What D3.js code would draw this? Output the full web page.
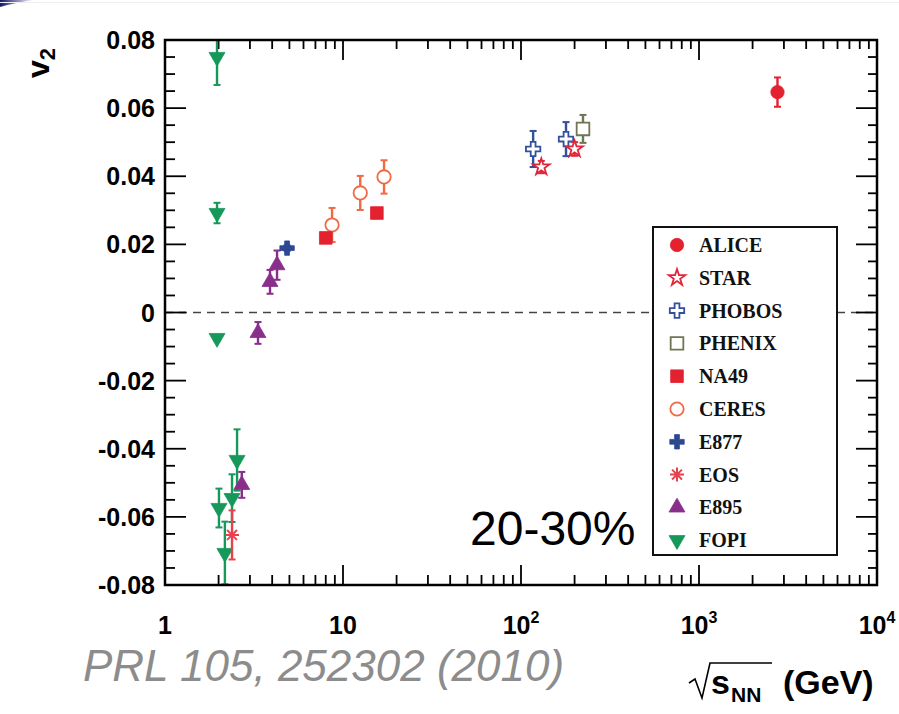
<!DOCTYPE html>
<html>
<head>
<meta charset="utf-8">
<script src="https://cdn.jsdelivr.net/npm/d3@7"></script>
<style>
  body { margin: 0; background: #fff; }
  svg { display: block; }
</style>
</head>
<body>
<svg id="chart" width="899" height="714"></svg>
<script>
// ===== v2 vs sqrt(sNN), 20-30% centrality =====

// data: s = sqrt(sNN) in GeV, v = v2, e = error
var alice  = [{ s: 2760, v: 0.0647, e: 0.0043 }];
var star   = [{ s: 130, v: 0.0427, e: 0.0018 }, { s: 200, v: 0.0480, e: 0.0020 }];
var phobos = [{ s: 117, v: 0.0480, e: 0.0053 }, { s: 179, v: 0.0509, e: 0.0050 }];
var phenix = [{ s: 223, v: 0.0539, e: 0.0041 }];
var na49   = [{ s: 8.0, v: 0.0219, e: 0.0008 }, { s: 15.5, v: 0.0292, e: 0.0008 }];
var ceres  = [{ s: 8.68, v: 0.0257, e: 0.0050 }, { s: 12.5, v: 0.0351, e: 0.0050 }, { s: 17.0, v: 0.0398, e: 0.0049 }];
var e877   = [{ s: 4.85, v: 0.0189, e: 0.0008 }];
var eos    = [{ s: 2.38, v: -0.0653, e: 0.0072 }];
var e895   = [{ s: 3.33, v: -0.0060, e: 0.0032 }, { s: 3.89, v: 0.0090, e: 0.0035 },
              { s: 4.26, v: 0.0139, e: 0.0043 }, { s: 2.70, v: -0.0506, e: 0.0038 }];
var fopi   = [{ s: 1.96, v: 0.0750, e: 0.0082 }, { s: 1.96, v: 0.0292, e: 0.0030 },
              { s: 1.96, v: -0.0075, e: 0.0008 }, { s: 2.01, v: -0.0574, e: 0.0057 },
              { s: 2.17, v: -0.0706, e: 0.0092 },
              { s: 2.38, v: -0.0545, e: 0.0070 }, { s: 2.54, v: -0.0433, e: 0.0090 }];

var yMajor = [0.08, 0.06, 0.04, 0.02, 0, -0.02, -0.04, -0.06, -0.08];
var xDecades = [1, 10, 100, 1000, 10000];
var xLabels = [["1", ""], ["10", ""], ["10", "2"], ["10", "3"], ["10", "4"]];

var series = [
  { name: "ALICE",  data: alice,  color: "#e3212f", shape: "circle",  fill: true },
  { name: "STAR",   data: star,   color: "#e3253a", shape: "star",    fill: false },
  { name: "PHOBOS", data: phobos, color: "#34509c", shape: "cross",   fill: false },
  { name: "PHENIX", data: phenix, color: "#6e7653", shape: "square",  fill: false },
  { name: "NA49",   data: na49,   color: "#e3212f", shape: "square",  fill: true },
  { name: "CERES",  data: ceres,  color: "#f06a45", shape: "circle",  fill: false },
  { name: "E877",   data: e877,   color: "#2d4793", shape: "cross",   fill: true },
  { name: "EOS",    data: eos,    color: "#e8404c", shape: "asterisk", fill: false },
  { name: "E895",   data: e895,   color: "#8a2e8c", shape: "triangle", fill: true },
  { name: "FOPI",   data: fopi,   color: "#16985a", shape: "tridown", fill: true }
];

var svg = d3.select("#chart");
var pLeft = 165, pRight = 877, pTop = 40, pBottom = 585;

var x = d3.scaleLog().domain([1, 10000]).range([pLeft, pRight]);
var y = d3.scaleLinear().domain([-0.08, 0.08]).range([pBottom, pTop]);

// slide decoration
var defs = svg.append("defs");
var cg = defs.append("linearGradient").attr("id", "corner");
cg.append("stop").attr("offset", "0%").attr("stop-color", "#14166b");
cg.append("stop").attr("offset", "100%").attr("stop-color", "#14166b").attr("stop-opacity", 0);
svg.append("path").attr("d", "M0,0 L34,0 Q14,3 0,7 Z").attr("fill", "url(#corner)");
svg.append("line").attr("x1", 0).attr("x2", 899).attr("y1", 2.5).attr("y2", 2.5)
  .attr("stroke", "#eeeeee").attr("stroke-width", 1);

defs.append("clipPath").attr("id", "plotclip").append("rect")
  .attr("x", pLeft).attr("y", pTop).attr("width", pRight - pLeft).attr("height", pBottom - pTop);

// zero line
svg.append("line")
  .attr("x1", pLeft).attr("x2", pRight).attr("y1", y(0)).attr("y2", y(0))
  .attr("stroke", "#444").attr("stroke-width", 1.3).attr("stroke-dasharray", "8,6");

// ticks
var minorX = [];
xDecades.slice(0, -1).forEach(function(d) {
  for (var k = 2; k <= 9; k++) minorX.push(d * k);
});
var minorY = d3.range(-0.08, 0.0801, 0.005).filter(function(v) {
  return Math.abs(Math.round(v * 1000) % 20) !== 0;
});

var tickG = svg.append("g").attr("stroke", "#000").attr("stroke-width", 1.8);
xDecades.forEach(function(d) {
  tickG.append("line").attr("x1", x(d)).attr("x2", x(d)).attr("y1", pBottom).attr("y2", pBottom - 20);
  tickG.append("line").attr("x1", x(d)).attr("x2", x(d)).attr("y1", pTop).attr("y2", pTop + 20);
});
minorX.forEach(function(d) {
  tickG.append("line").attr("x1", x(d)).attr("x2", x(d)).attr("y1", pBottom).attr("y2", pBottom - 10);
  tickG.append("line").attr("x1", x(d)).attr("x2", x(d)).attr("y1", pTop).attr("y2", pTop + 9);
});
yMajor.forEach(function(v) {
  tickG.append("line").attr("x1", pLeft).attr("x2", pLeft + 21).attr("y1", y(v)).attr("y2", y(v));
  tickG.append("line").attr("x1", pRight).attr("x2", pRight - 21).attr("y1", y(v)).attr("y2", y(v));
});
minorY.forEach(function(v) {
  tickG.append("line").attr("x1", pLeft).attr("x2", pLeft + 10).attr("y1", y(v)).attr("y2", y(v));
  tickG.append("line").attr("x1", pRight).attr("x2", pRight - 9).attr("y1", y(v)).attr("y2", y(v));
});

// y tick labels
svg.append("g").selectAll("text").data(yMajor).join("text")
  .attr("x", pLeft - 10).attr("y", function(d) { return y(d); })
  .attr("dy", "0.36em").attr("text-anchor", "end")
  .attr("font-family", "Liberation Sans, Arial, sans-serif").attr("font-weight", "bold")
  .attr("font-size", 25)
  .text(function(d) { return d === 0 ? "0" : d.toFixed(2); });

// x tick labels
var xl = svg.append("g").selectAll("text").data(xDecades).join("text")
  .attr("x", function(d) { return x(d); }).attr("y", 634)
  .attr("text-anchor", "middle")
  .attr("font-family", "Liberation Sans, Arial, sans-serif").attr("font-weight", "bold")
  .attr("font-size", 25);
xl.each(function(d, i) {
  var t = d3.select(this);
  t.append("tspan").text(xLabels[i][0]);
  if (xLabels[i][1]) t.append("tspan").attr("font-size", 16).attr("dy", -11).text(xLabels[i][1]);
});

// symbols
function shapePath(shape) {
  if (shape === "circle") return d3.symbol(d3.symbolCircle, 140)();
  if (shape === "square") return d3.symbol(d3.symbolSquare, 160)();
  if (shape === "star") return d3.symbol(d3.symbolStar, 85)();
  if (shape === "cross") return d3.symbol(d3.symbolCross, 115)();
  if (shape === "triangle") return d3.symbol(d3.symbolTriangle, 110)();
  if (shape === "tridown") return d3.symbol(d3.symbolTriangle, 110)();
  if (shape === "asterisk") {
    var r = 7, p = "";
    [0, 45, 90, 135].forEach(function(a) {
      var c = Math.cos(a * Math.PI / 180) * r, s = Math.sin(a * Math.PI / 180) * r;
      p += "M" + (-c) + "," + (-s) + "L" + c + "," + s;
    });
    return p;
  }
}
function drawMarker(g, sr, px, py) {
  var m = g.append("path").attr("d", shapePath(sr.shape))
    .attr("transform", "translate(" + px + "," + py + ")" + (sr.shape === "tridown" ? " rotate(180)" : ""))
    .attr("stroke", sr.color);
  if (sr.fill) m.attr("fill", sr.color).attr("stroke-width", 0.8);
  else m.attr("fill", sr.shape === "asterisk" ? "none" : "#fff").attr("stroke-width", sr.shape === "asterisk" ? 2 : 1.8);
}

var plot = svg.append("g").attr("clip-path", "url(#plotclip)");
series.slice().reverse().forEach(function(sr) {
  var g = plot.append("g");
  sr.data.forEach(function(d) {
    var px = x(d.s), y1 = y(d.v + d.e), y2 = y(d.v - d.e);
    g.append("line").attr("x1", px).attr("x2", px).attr("y1", y1).attr("y2", y2)
      .attr("stroke", sr.color).attr("stroke-width", 2.4);
    [y1, y2].forEach(function(yy) {
      g.append("line").attr("x1", px - 3.5).attr("x2", px + 3.5).attr("y1", yy).attr("y2", yy)
        .attr("stroke", sr.color).attr("stroke-width", 2);
    });
    drawMarker(g, sr, px, y(d.v));
  });
});

// frame
svg.append("rect").attr("x", pLeft).attr("y", pTop).attr("width", pRight - pLeft).attr("height", pBottom - pTop)
  .attr("fill", "none").attr("stroke", "#000").attr("stroke-width", 2.5);

// legend
var leg = svg.append("g");
leg.append("rect").attr("x", 653).attr("y", 227).attr("width", 184).attr("height", 328)
  .attr("fill", "#fff").attr("stroke", "#111").attr("stroke-width", 2);
series.forEach(function(sr, i) {
  var ly = 245 + i * 32.8;
  drawMarker(leg, sr, 677, ly);
  leg.append("text").attr("x", 699).attr("y", ly).attr("dy", "0.35em")
    .attr("font-family", "Liberation Serif, Times New Roman, serif").attr("font-weight", "bold")
    .attr("font-size", 20).attr("fill", "#111").text(sr.name);
});

// annotations
svg.append("text").attr("x", 470).attr("y", 545)
  .attr("font-family", "Liberation Sans, Arial, sans-serif").attr("font-size", 48)
  .attr("fill", "#000").text("20-30%");

svg.append("text").attr("x", 83).attr("y", 681)
  .attr("font-family", "Liberation Sans, Arial, sans-serif").attr("font-style", "italic")
  .attr("font-size", 44).attr("fill", "#8c8c8c").text("PRL 105, 252302 (2010)");

// y axis title
var yt = svg.append("text").attr("transform", "translate(49,78) rotate(-90)")
  .attr("font-family", "Liberation Sans, Arial, sans-serif").attr("font-weight", "bold")
  .attr("font-size", 32).attr("fill", "#000");
yt.append("tspan").text("v");
yt.append("tspan").attr("font-size", 22).attr("dy", 6).text("2");

// x axis title
svg.append("path").attr("d", "M689,683 L695,679 L702,698 L710,663 L772,663")
  .attr("fill", "none").attr("stroke", "#000").attr("stroke-width", 1.6);
var xFont = "Liberation Sans, Arial, sans-serif";
svg.append("text").attr("x", 711).attr("y", 694)
  .attr("font-family", xFont).attr("font-weight", "bold").attr("font-size", 34).text("s");
svg.append("text").attr("x", 731).attr("y", 702)
  .attr("font-family", xFont).attr("font-weight", "bold").attr("font-size", 21).text("NN");
svg.append("text").attr("x", 783).attr("y", 694)
  .attr("font-family", xFont).attr("font-weight", "bold").attr("font-size", 34).text("(GeV)");
</script>
</body>
</html>
